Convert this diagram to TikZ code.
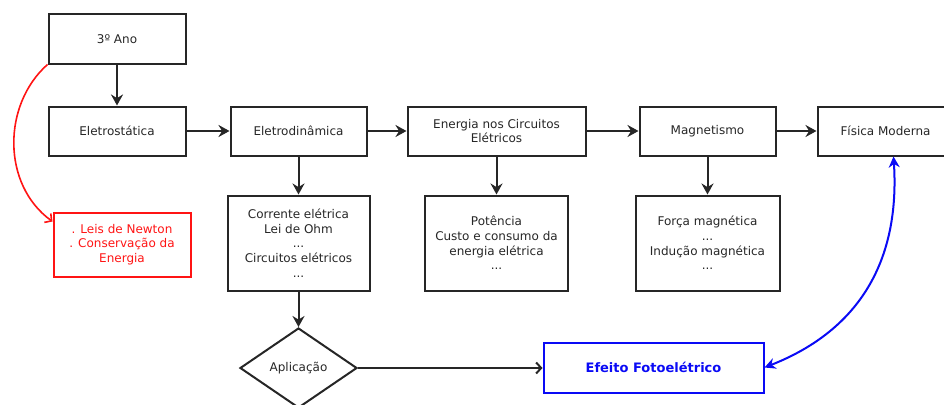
\documentclass[tikz,border=0pt]{standalone}
\usepackage{fontspec}
\setmainfont{DejaVu Sans}
\usetikzlibrary{arrows.meta,shapes.geometric}
\definecolor{inkred}{RGB}{255,20,20}
\definecolor{inkblue}{RGB}{10,10,245}
\begin{document}
\begin{tikzpicture}[x=1pt,y=-1pt,
  every node/.style={font=\fontsize{12}{14.6}\selectfont, text=black!85, align=center, inner sep=0pt},
  box/.style={draw=black!85, line width=2pt, rectangle},
  redbox/.style={draw=inkred, line width=2pt, rectangle, text=inkred},
  bluebox/.style={draw=inkblue, line width=2pt, rectangle, text=inkblue, font=\fontsize{13}{15}\selectfont\bfseries},
  decision/.style={draw=black!85, line width=2pt, diamond},
  flow/.style={draw=black!85, line width=2pt, -{Stealth[length=11pt,width=12pt]}},
  openflow/.style={draw=black!85, line width=2pt, -{Straight Barb[length=5pt,width=11pt]}},
  redlink/.style={draw=inkred, line width=1.6pt, -{Straight Barb[length=5pt,width=11pt]}},
  bluelink/.style={draw=inkblue, line width=2pt, {Stealth[length=11pt,width=11pt]}-{Stealth[length=11pt,width=11pt]}}
]
\useasboundingbox (0,0) rectangle (944,404);
\clip (0,0) rectangle (944,404);

% top row
\node[box, minimum width=137pt, minimum height=49pt] (ano) at (117,39) {3º Ano};
\node[box, minimum width=137pt, minimum height=49pt] (estat) at (117,131) {Eletrostática};
\node[box, minimum width=136pt, minimum height=49pt] (edin) at (298.5,131) {Eletrodinâmica};
\node[box, minimum width=178pt, minimum height=49pt] (energ) at (496.5,131) {Energia nos Circuitos\\Elétricos};
\node[box, minimum width=136pt, minimum height=49pt] (magn) at (707.5,131) {Magnetismo};
\node[box, minimum width=136pt, minimum height=49pt] (fmod) at (885.5,131) {Física Moderna};

% detail boxes
\node[redbox, minimum width=137pt, minimum height=64pt] (leis) at (122,244.5) {. Leis de Newton\\. Conservação da\\Energia};
\node[box, minimum width=142pt, minimum height=95pt] (corr) at (298.5,243) {Corrente elétrica\\Lei de Ohm\\...\\Circuitos elétricos\\...};
\node[box, minimum width=143pt, minimum height=95pt] (pot) at (496.5,243) {Potência\\Custo e consumo da\\energia elétrica\\...};
\node[box, minimum width=144pt, minimum height=95pt] (forca) at (707.5,243) {Força magnética\\...\\Indução magnética\\...};

% bottom row
\node[decision, minimum width=117pt, minimum height=80pt] (apl) at (298.5,368) {Aplicação};
\node[bluebox, minimum width=220pt, minimum height=50pt] (foto) at (653.5,367.5) {Efeito Fotoelétrico};

% connectors
\draw[flow] (ano.south) -- (estat.north);
\draw[flow] (estat.east) -- (edin.west);
\draw[flow] (edin.east) -- (energ.west);
\draw[flow] (energ.east) -- (magn.west);
\draw[flow] (magn.east) -- (fmod.west);
\draw[flow] (edin.south) -- (corr.north);
\draw[flow] (energ.south) -- (pot.north);
\draw[flow] (magn.south) -- (forca.north);
\draw[flow] (corr.south) -- (apl.north);
\draw[openflow] (apl.east) -- (apl.east -| foto.west);

\draw[redlink] (ano.south west) .. controls (2,105) and (2,185) .. ([yshift=-10pt]leis.north west);
\draw[bluelink] ([xshift=8pt]fmod.south) .. controls (900,260) and (860,330) .. (foto.east);
\end{tikzpicture}
\end{document}
